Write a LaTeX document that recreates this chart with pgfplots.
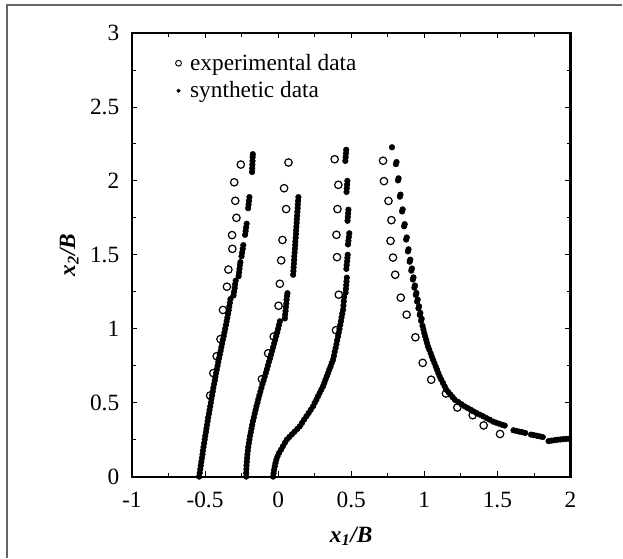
\documentclass[border=0pt]{standalone}
\usepackage{fontspec}
\setmainfont{Liberation Serif}
\usepackage{pgfplots}
\pgfplotsset{compat=1.18}

\newcommand{\lblfont}{\fontsize{17.5}{20}\selectfont}
\pgfplotsset{dotlegend/.style={legend image code/.code={\draw[##1] plot coordinates {(0cm,0cm)};}}}

\begin{document}
\begin{tikzpicture}
\begin{axis}[
  scale only axis,
  width=329.25pt, height=333pt,
  xmin=-1, xmax=2, ymin=0, ymax=3,
  axis line style={line width=1.6pt},
  tick align=inside,
  xtick={-1,-0.5,0,0.5,1,1.5,2},
  xticklabels={-1,-0.5,0,0.5,1,1.5,2},
  ytick={0,0.5,1,1.5,2,2.5,3},
  yticklabels={0,0.5,1,1.5,2,2.5,3},
  minor tick num=1,
  major tick length=4pt, minor tick length=3pt,
  tick style={black, line width=0.6pt},
  ticklabel style={font=\lblfont},
  xticklabel style={yshift=-8pt},
  yticklabel style={xshift=-6pt},
  xlabel={\textbf{\textit{x}\textsubscript{\textit{1}}\textit{/B}}},
  ylabel={\textbf{\textit{x}\textsubscript{\textit{2}}\textit{/B}}},
  label style={font=\lblfont},
  xlabel style={at={(axis description cs:0.5,0)}, anchor=center, yshift=-45pt},
  ylabel style={at={(axis description cs:0,0.5)}, anchor=center, yshift=47pt},
  legend style={at={(axis cs:-0.73,2.89)}, anchor=north west, draw=none, fill=none,
    font=\lblfont, nodes={inner sep=1.5pt}, row sep=4pt, column sep=5pt},
  legend cell align=left,
]
\coordinate (bl) at (rel axis cs:0,0);
\coordinate (tr) at (rel axis cs:1,1);

% legend symbols
\addlegendimage{only marks, mark=o, mark size=2.2pt, mark options={line width=0.7pt}, dotlegend}
\addlegendentry{experimental data}
\addlegendimage{only marks, mark=*, mark size=1.3pt, dotlegend}
\addlegendentry{synthetic data}

% experimental data (open circles)
\addplot[only marks, mark=o, mark size=2.8pt, mark options={line width=0.9pt}, forget plot] coordinates {
  (-0.255,2.11)(-0.30,1.99)(-0.293,1.865)(-0.285,1.75)(-0.315,1.633)(-0.313,1.54)
  (-0.34,1.40)(-0.35,1.284)(-0.377,1.127)(-0.394,0.93)(-0.42,0.814)(-0.443,0.70)(-0.465,0.548)
};
\addplot[only marks, mark=o, mark size=2.8pt, mark options={line width=0.9pt}, forget plot] coordinates {
  (0.071,2.124)(0.041,1.95)(0.055,1.809)(0.030,1.60)(0.021,1.462)(0.012,1.304)(0.003,1.155)
  (-0.03,0.947)(-0.068,0.834)(-0.111,0.659)
};
\addplot[only marks, mark=o, mark size=2.8pt, mark options={line width=0.9pt}, forget plot] coordinates {
  (0.387,2.146)(0.412,1.973)(0.406,1.809)(0.399,1.635)(0.403,1.484)(0.415,1.23)(0.396,0.99)
};
\addplot[only marks, mark=o, mark size=2.8pt, mark options={line width=0.9pt}, forget plot] coordinates {
  (0.718,2.136)(0.724,1.998)(0.755,1.864)(0.775,1.734)(0.769,1.594)(0.786,1.481)(0.801,1.365)
  (0.839,1.21)(0.879,1.095)(0.939,0.942)(0.989,0.769)(1.047,0.655)(1.148,0.562)(1.226,0.467)
  (1.331,0.415)(1.406,0.346)(1.518,0.288)
};

% synthetic data (small filled dots)
\addplot[only marks, mark=*, mark size=2.1pt, forget plot] coordinates {
  (-0.540,0.000)(-0.536,0.025)(-0.532,0.050)(-0.529,0.075)(-0.525,0.100)(-0.521,0.125)
  (-0.517,0.150)(-0.514,0.175)(-0.510,0.200)(-0.506,0.225)(-0.502,0.250)(-0.498,0.275)
  (-0.494,0.300)(-0.490,0.325)(-0.486,0.350)(-0.482,0.375)(-0.478,0.400)(-0.473,0.425)
  (-0.469,0.450)(-0.464,0.475)(-0.460,0.500)(-0.456,0.525)(-0.451,0.550)(-0.447,0.575)
  (-0.443,0.600)(-0.438,0.625)(-0.433,0.650)(-0.429,0.675)(-0.424,0.700)(-0.419,0.725)
  (-0.414,0.750)(-0.409,0.775)(-0.404,0.800)(-0.399,0.825)(-0.393,0.850)(-0.388,0.875)
  (-0.383,0.900)(-0.378,0.925)(-0.372,0.950)(-0.367,0.975)(-0.362,1.000)(-0.357,1.025)
  (-0.352,1.050)(-0.347,1.075)(-0.342,1.100)(-0.338,1.125)(-0.334,1.150)(-0.330,1.175)
  (-0.326,1.200)
  (-0.305,1.225)(-0.301,1.250)(-0.297,1.275)(-0.294,1.300)(-0.290,1.325)
  (-0.270,1.355)(-0.267,1.380)(-0.264,1.405)(-0.261,1.430)(-0.258,1.450)
  (-0.250,1.490)(-0.246,1.515)(-0.242,1.540)(-0.238,1.565)
  (-0.226,1.635)(-0.222,1.660)(-0.219,1.685)(-0.215,1.710)
  (-0.205,1.815)(-0.202,1.840)(-0.199,1.865)(-0.196,1.890)
  (-0.178,2.060)(-0.177,2.085)(-0.176,2.110)(-0.175,2.135)(-0.174,2.160)(-0.173,2.180)
};
\addplot[only marks, mark=*, mark size=2.1pt, forget plot] coordinates {
  (-0.218,0.000)(-0.218,0.025)(-0.217,0.050)(-0.216,0.075)(-0.214,0.100)(-0.212,0.125)
  (-0.210,0.150)(-0.207,0.175)(-0.204,0.200)(-0.200,0.225)(-0.196,0.250)(-0.192,0.275)
  (-0.187,0.300)(-0.182,0.325)(-0.177,0.350)(-0.172,0.375)(-0.166,0.400)(-0.160,0.425)
  (-0.154,0.450)(-0.148,0.475)(-0.141,0.500)(-0.135,0.525)(-0.128,0.550)(-0.121,0.575)
  (-0.114,0.600)(-0.107,0.625)(-0.099,0.650)(-0.092,0.675)(-0.084,0.700)(-0.077,0.725)
  (-0.070,0.750)(-0.063,0.775)(-0.055,0.800)(-0.048,0.825)(-0.041,0.850)(-0.034,0.875)
  (-0.027,0.900)(-0.020,0.925)(-0.013,0.950)(-0.006,0.975)(0.000,1.000)(0.006,1.025)
  (0.012,1.050)
  (0.046,1.070)(0.048,1.095)(0.051,1.120)(0.053,1.145)(0.056,1.170)(0.058,1.195)
  (0.061,1.220)(0.064,1.240)
  (0.103,1.365)(0.105,1.390)(0.106,1.415)(0.108,1.440)(0.110,1.465)(0.111,1.490)
  (0.113,1.515)(0.115,1.540)(0.117,1.565)(0.118,1.590)(0.120,1.615)(0.122,1.640)
  (0.123,1.665)(0.125,1.690)(0.127,1.715)(0.128,1.740)(0.130,1.765)(0.132,1.790)
  (0.134,1.815)(0.135,1.840)(0.137,1.865)(0.139,1.890)
};
\addplot[only marks, mark=*, mark size=2.1pt, forget plot] coordinates {
  (-0.034,0.000)(-0.031,0.023)(-0.027,0.046)(-0.023,0.069)(-0.018,0.091)(-0.012,0.114)
  (-0.004,0.137)(0.007,0.160)(0.020,0.182)(0.033,0.205)(0.046,0.228)(0.060,0.250)
  (0.077,0.268)(0.095,0.286)(0.113,0.304)(0.131,0.322)(0.148,0.340)
  (0.163,0.362)(0.178,0.385)(0.194,0.408)(0.209,0.430)(0.224,0.452)(0.239,0.475)
  (0.250,0.498)(0.262,0.520)(0.273,0.543)(0.284,0.565)(0.296,0.588)(0.307,0.610)
  (0.316,0.633)(0.324,0.655)(0.333,0.678)(0.342,0.700)(0.350,0.723)(0.359,0.745)
  (0.367,0.768)(0.376,0.790)(0.382,0.816)(0.387,0.843)(0.393,0.869)(0.399,0.895)
  (0.404,0.922)(0.410,0.948)(0.415,0.974)(0.420,0.999)(0.425,1.025)(0.430,1.051)
  (0.434,1.077)(0.439,1.102)(0.444,1.128)(0.447,1.157)(0.449,1.186)(0.452,1.215)
  (0.462,1.245)(0.464,1.270)(0.466,1.295)(0.468,1.320)(0.470,1.345)
  (0.467,1.405)(0.469,1.430)(0.472,1.455)(0.474,1.480)(0.476,1.500)
  (0.478,1.570)(0.481,1.595)(0.484,1.620)(0.487,1.645)
  (0.475,1.730)(0.477,1.755)(0.479,1.780)(0.481,1.805)
  (0.468,1.925)(0.470,1.950)(0.472,1.975)(0.474,2.000)
  (0.460,2.135)(0.462,2.160)(0.464,2.185)(0.466,2.210)
};
\addplot[only marks, mark=*, mark size=2.1pt, forget plot] coordinates {
  (0.779,2.227)
  (0.806,2.113)(0.810,2.127)(0.820,2.003)(0.824,2.017)(0.833,1.893)(0.837,1.907)
  (0.848,1.793)(0.852,1.807)(0.862,1.693)(0.866,1.707)(0.876,1.603)(0.880,1.617)
  (0.888,1.523)(0.892,1.537)(0.900,1.453)(0.904,1.467)(0.911,1.393)(0.915,1.407)
  (0.922,1.333)(0.926,1.347)(0.932,1.278)(0.936,1.292)(0.942,1.228)(0.946,1.242)
  (0.951,1.183)(0.955,1.197)(0.960,1.138)(0.964,1.152)(0.969,1.093)(0.973,1.107)
  (0.978,1.053)(0.982,1.067)
  (0.988,1.020)(0.994,0.995)(1.000,0.970)(1.006,0.948)(1.013,0.925)(1.019,0.903)
  (1.025,0.880)(1.034,0.858)(1.043,0.835)(1.051,0.813)(1.060,0.790)(1.069,0.768)
  (1.078,0.745)(1.087,0.723)(1.096,0.700)(1.105,0.678)(1.116,0.656)(1.128,0.633)
  (1.139,0.611)(1.150,0.588)(1.165,0.571)(1.179,0.554)(1.194,0.537)(1.208,0.520)
  (1.231,0.505)(1.253,0.490)(1.276,0.475)(1.296,0.464)(1.316,0.453)(1.336,0.441)
  (1.356,0.430)(1.379,0.419)(1.402,0.408)(1.424,0.396)(1.447,0.385)
  (1.470,0.372)(1.490,0.365)(1.510,0.358)(1.530,0.351)(1.550,0.345)
  (1.610,0.313)(1.630,0.309)(1.650,0.304)(1.670,0.300)(1.690,0.295)
  (1.730,0.284)(1.750,0.280)(1.770,0.276)(1.790,0.272)(1.810,0.267)
  (1.850,0.240)(1.870,0.243)(1.890,0.246)(1.910,0.249)(1.930,0.251)(1.950,0.253)
  (1.970,0.255)(1.990,0.256)
};
\end{axis}
% page size and the thin frame on the left and top
\path ([shift={(-99pt,-60.75pt)}]bl) rectangle ([shift={(39pt,24.75pt)}]tr);
\draw[black!60, line width=0.8pt]
  ([shift={(-93.75pt,-60.75pt)}]bl) |- ([shift={(39pt,21pt)}]tr);
\end{tikzpicture}
\end{document}
